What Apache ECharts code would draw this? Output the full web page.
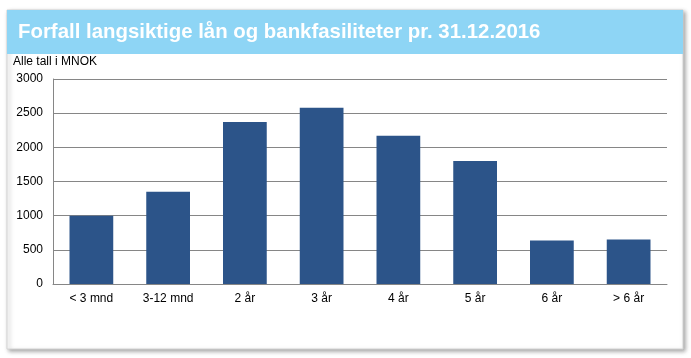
<!DOCTYPE html>
<html>
<head>
<meta charset="utf-8">
<script src="https://cdn.jsdelivr.net/npm/echarts@6/dist/echarts.min.js"></script>
<style>
html,body{margin:0;padding:0;background:#fff;}
#c{width:691px;height:358px;}
</style>
</head>
<body>
<div id="c"></div>
<script>
const titleText = 'Forfall langsiktige lån og bankfasiliteter pr. 31.12.2016';
const unitText = 'Alle tall i MNOK';
const categories = ['< 3 mnd', '3-12 mnd', '2 år', '3 år', '4 år', '5 år', '6 år', '> 6 år'];
const values = [1000, 1350, 2370, 2580, 2170, 1800, 635, 650];
const yTicks = [0, 500, 1000, 1500, 2000, 2500, 3000];

const FONT = '"Liberation Sans", Arial, sans-serif';
const chart = echarts.init(document.getElementById('c'), null, {renderer: 'canvas'});
chart.setOption({
  animation: false,
  backgroundColor: '#ffffff',
  graphic: [
    {type: 'rect', z: -10, shape: {x: 7, y: 10, width: 676, height: 339},
     style: {fill: '#ffffff', stroke: '#d4d4d4', lineWidth: 1,
       shadowBlur: 4, shadowOffsetX: 2, shadowOffsetY: 2, shadowColor: 'rgba(0,0,0,0.35)'}},
    {type: 'rect', z: -9, shape: {x: 7, y: 10, width: 676, height: 44},
     style: {fill: '#8ed5f5'}},
    {type: 'text', z: 5, left: 18, top: 22,
     style: {text: titleText, fill: '#ffffff', font: 'bold 20.4px ' + FONT}},
    {type: 'text', z: 5, left: 13, top: 56,
     style: {text: unitText, fill: '#000000', font: '12px ' + FONT}}
  ],
  grid: {left: 53, right: 24, top: 79, bottom: 74, containLabel: false},
  xAxis: {
    type: 'category',
    data: categories,
    axisLine: {show: true, lineStyle: {color: '#868686', width: 1}},
    axisTick: {show: false},
    axisLabel: {color: '#000', fontFamily: FONT, fontSize: 12, margin: 9, interval: 0}
  },
  yAxis: {
    type: 'value',
    min: yTicks[0],
    max: yTicks[yTicks.length - 1],
    interval: 500,
    axisLine: {show: true, lineStyle: {color: '#868686', width: 1}},
    axisTick: {show: false},
    axisLabel: {color: '#000', fontFamily: FONT, fontSize: 12, margin: 10,
      formatter: function (v) { return String(v); }},
    splitLine: {show: true, lineStyle: {color: '#868686', width: 1}}
  },
  series: [{
    type: 'bar',
    data: values,
    barWidth: '57%',
    itemStyle: {color: '#2c5489'}
  }]
});
</script>
</body>
</html>
